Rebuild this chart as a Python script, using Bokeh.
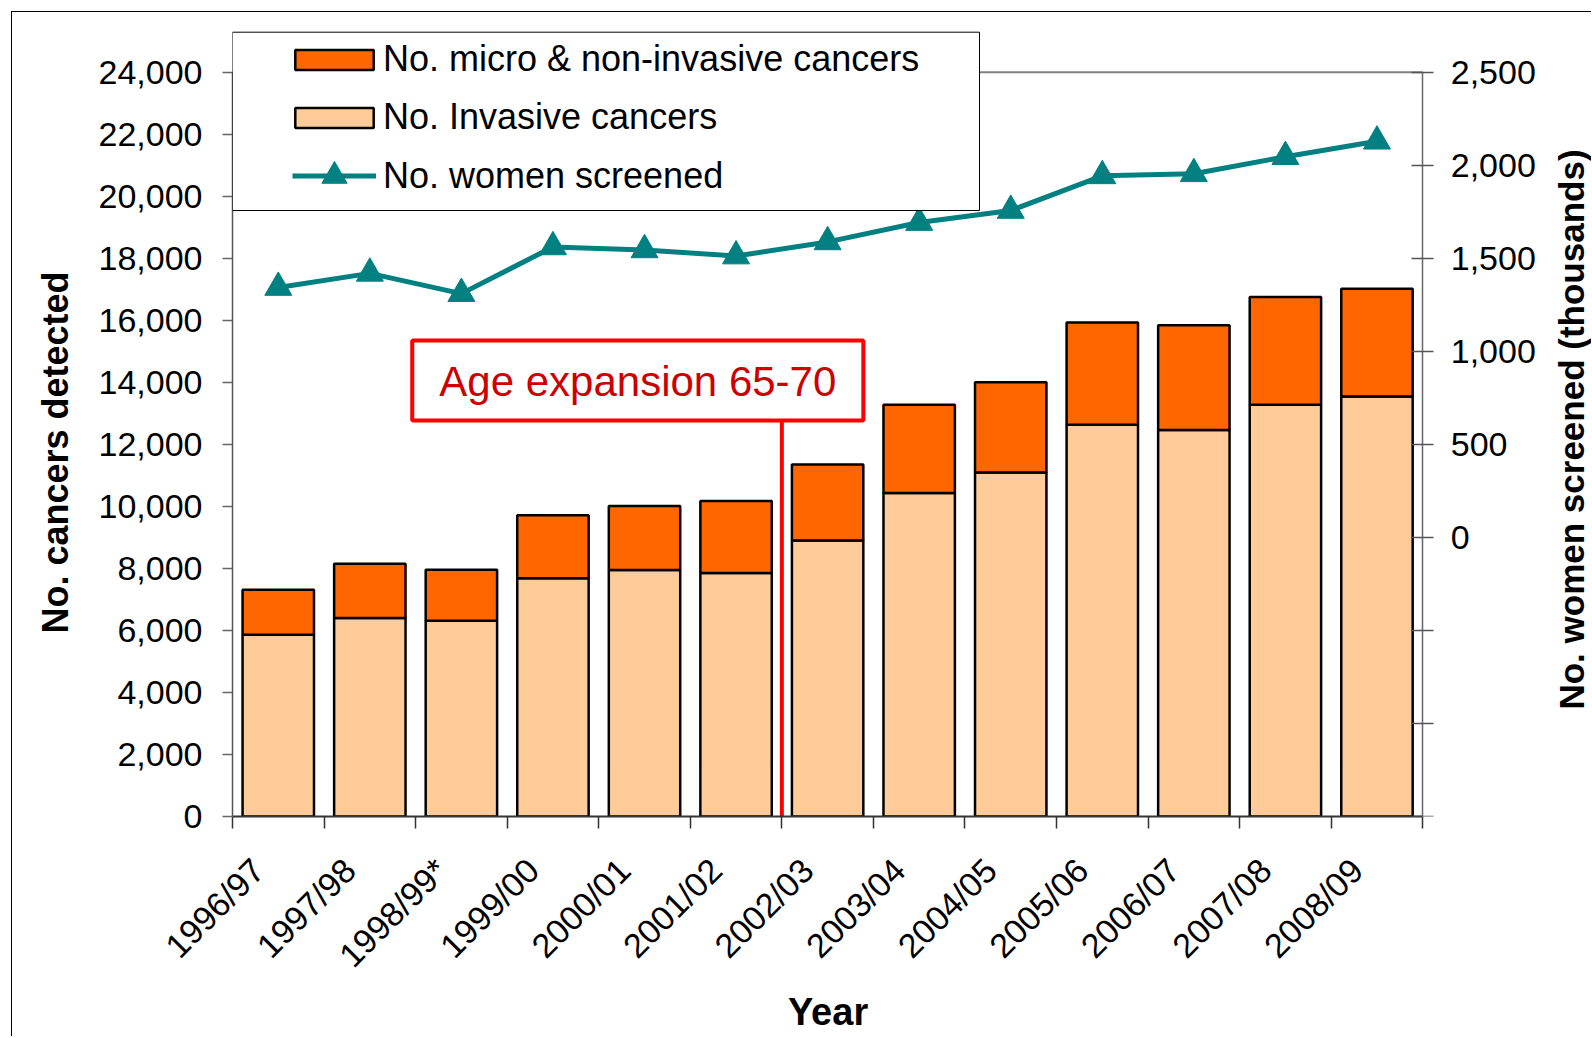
import math
from bokeh.plotting import figure
from bokeh.models import (Range1d, LinearAxis, FixedTicker, NumeralTickFormatter,
                          Legend, LegendItem, BoxAnnotation, Label)
from bokeh.embed import file_html
from bokeh.resources import INLINE

# ---------------- data ----------------
years = ["1996/97", "1997/98", "1998/99*", "1999/00", "2000/01", "2001/02", "2002/03",
         "2003/04", "2004/05", "2005/06", "2006/07", "2007/08", "2008/09"]
invasive = [5860, 6400, 6310, 7680, 7950, 7850, 8900, 10430, 11090, 12630, 12460, 13280, 13540]
micro = [1450, 1750, 1650, 2030, 2060, 2320, 2450, 2850, 2910, 3300, 3380, 3470, 3480]
women_thousands = [1343, 1419, 1310, 1561, 1545, 1512, 1588, 1692, 1757, 1943, 1954, 2046, 2129]

left_ticks = list(range(0, 24001, 2000))
right_ticks = list(range(-1500, 2501, 500))

FONT = "Liberation Sans"
ORANGE = "#FF6600"
PEACH = "#FFCC99"
TEAL = "#008080"
NB = "\u00a0"

n = len(years)
xs = [i + 0.5 for i in range(n)]
label_pos = [x - 0.22 for x in xs]
totals = [a + b for a, b in zip(invasive, micro)]

# The frame runs to the right edge of the canvas (the right axis sits at x = n via
# fixed_location) and a little above 24,000, so that the legend and the right-hand
# title are drawn inside it and are not clipped.
p = figure(width=1580, height=1025, output_backend="svg", toolbar_location=None,
           x_range=Range1d(0, 14.854), y_range=Range1d(0, 25409),
           min_border_left=220, min_border_top=16, min_border_right=0, min_border_bottom=221)
p.styles = {"margin-left": "11px", "margin-top": "11px",
            "border-left": "1px solid black", "border-top": "1px solid black"}
p.outline_line_color = None
p.grid.visible = False
p.background_fill_color = "white"
p.border_fill_color = "white"

p.extra_y_ranges = {"right": Range1d(-1500, 2735)}

# top border line of the plot area
p.segment(x0=[0], y0=[24000], x1=[n], y1=[24000], line_color="#808080", line_width=2)

# bars
r_inv = p.vbar(x=xs, bottom=0, top=invasive, width=0.78, fill_color=PEACH,
               line_color="black", line_width=2.5)
r_mic = p.vbar(x=xs, bottom=invasive, top=totals, width=0.78, fill_color=ORANGE,
               line_color="black", line_width=2.5)

# line
r_line = p.line(xs, women_thousands, y_range_name="right", line_color=TEAL, line_width=5)
r_tri = p.scatter(xs, women_thousands, y_range_name="right", marker="triangle", size=27,
                  fill_color=TEAL, line_color=TEAL)

# annotation: age expansion
p.segment(x0=[6], y0=[12769], x1=[6], y1=[0], line_color="#FF0000", line_width=4)
p.add_layout(BoxAnnotation(left=1.963, right=6.89, bottom=12769, top=15349,
                           fill_color="white", fill_alpha=1.0,
                           line_color="#FF0000", line_alpha=1.0, line_width=4, level="overlay"))
p.add_layout(Label(x=4.427, y=14030, text="Age expansion 65-70", text_align="center",
                   text_baseline="middle", text_font=FONT, text_font_size="42px",
                   text_color="#CC0000", level="overlay"))

# axes
xax = p.xaxis[0]
xax.bounds = (0, n)
xax.ticker = FixedTicker(ticks=label_pos, minor_ticks=list(range(n + 1)))
xax.major_label_overrides = {x: y for x, y in zip(label_pos, years)}
xax.major_label_orientation = math.pi / 4
xax.major_tick_line_color = None
xax.minor_tick_line_color = "#333333"
xax.minor_tick_line_width = 1.5
xax.minor_tick_out = 12
xax.minor_tick_in = 0
xax.axis_line_color = "#333333"
xax.axis_line_width = 2
xax.major_label_text_font = FONT
xax.major_label_text_font_size = "34px"
xax.major_label_text_color = "black"
xax.major_label_standoff = 36
xax.axis_label = "Year" + NB * 16
xax.axis_label_text_font = FONT
xax.axis_label_text_font_size = "38px"
xax.axis_label_text_font_style = "bold"
xax.axis_label_text_color = "black"
xax.axis_label_standoff = 0

yax = p.yaxis[0]
yax.ticker = FixedTicker(ticks=left_ticks)
yax.bounds = (0, 24000)
yax.formatter = NumeralTickFormatter(format="0,0")
yax.major_tick_out = 10
yax.major_tick_in = 0
yax.minor_tick_line_color = None
yax.major_tick_line_color = "#666666"
yax.major_tick_line_width = 1.5
yax.axis_line_color = "#555555"
yax.axis_line_width = 1.5
yax.major_label_text_font = FONT
yax.major_label_text_font_size = "34px"
yax.major_label_text_color = "black"
yax.major_label_standoff = 20
yax.axis_label = "No. cancers detected" + NB * 6
yax.axis_label_text_font = FONT
yax.axis_label_text_font_size = "36px"
yax.axis_label_text_font_style = "bold"
yax.axis_label_text_color = "black"
yax.axis_label_standoff = 20

rax = LinearAxis(y_range_name="right", ticker=FixedTicker(ticks=right_ticks),
                 fixed_location=n, bounds=(-1500, 2500),
                 formatter=NumeralTickFormatter(format="0,0"),
                 major_label_overrides={t: "" for t in right_ticks if t < 0},
                 major_tick_in=11, major_tick_out=11, minor_tick_line_color=None,
                 major_tick_line_color="#555555", major_tick_line_width=1.5,
                 axis_line_color="#666666", axis_line_width=1.5,
                 major_label_text_font=FONT, major_label_text_font_size="34px",
                 major_label_text_color="black", major_label_standoff=17)
p.add_layout(rax, "right")

# right-hand axis title (reads bottom-to-top)
p.add_layout(Label(x=1339, y=387, x_units="screen", y_units="screen",
                   text="No. women screened (thousands)", angle=math.pi / 2,
                   text_align="center", text_baseline="middle", text_font=FONT,
                   text_font_size="35px", text_font_style="bold", text_color="black"))

# legend box + legends
p.add_layout(BoxAnnotation(left=0, right=747, top=784.3, bottom=606,
                           left_units="screen", right_units="screen",
                           top_units="screen", bottom_units="screen",
                           fill_color="white", fill_alpha=1.0,
                           line_color="black", line_alpha=1.0, line_width=1))
common = dict(orientation="vertical", padding=0, margin=0, label_height=40,
              label_text_font=FONT, label_text_font_size="36px", label_text_color="black",
              border_line_color=None, background_fill_alpha=0)
legend_a = Legend(items=[
    LegendItem(label="No. micro & non-invasive cancers", renderers=[r_mic]),
    LegendItem(label="No. Invasive cancers", renderers=[r_inv]),
], location=(53, 678), glyph_width=98, glyph_height=25, spacing=16, label_standoff=0, **common)
legend_b = Legend(items=[
    LegendItem(label="No. women screened", renderers=[r_line, r_tri]),
], location=(60, 609), glyph_width=84, glyph_height=63, spacing=0, label_standoff=7, **common)
p.add_layout(legend_a, "center")
p.add_layout(legend_b, "center")

open("out.html", "w").write(file_html(p, INLINE))
